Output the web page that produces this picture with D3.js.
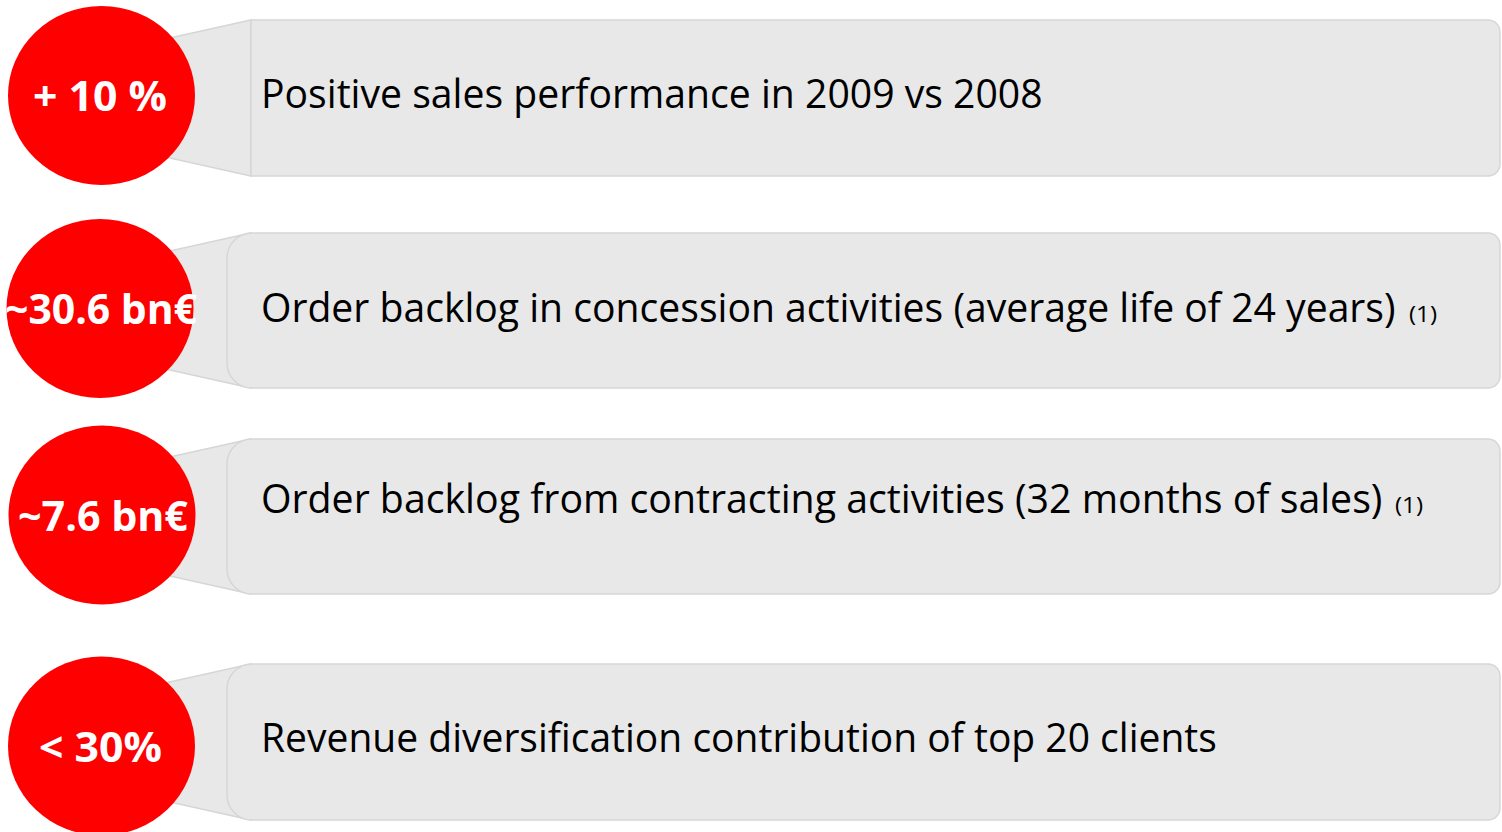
<!DOCTYPE html>
<html>
<head>
<meta charset="utf-8">
<script src="https://cdn.jsdelivr.net/npm/d3@7"></script>
<style>
  html, body { margin: 0; padding: 0; background: #ffffff; }
  svg { display: block; }
</style>
</head>
<body>
<svg id="chart" width="1502" height="832"></svg>
<script>
// ---- data ----
const categories = ["sales", "concession", "contracting", "clients"];
const figures = ["+ 10 %", "~30.6 bn€", "~7.6 bn€", "< 30%"];
const descriptions = [
  "Positive sales performance in 2009 vs 2008",
  "Order backlog in concession activities (average life of 24 years)",
  "Order backlog from contracting activities (32 months of sales)",
  "Revenue diversification contribution of top 20 clients"
];
const notes = ["", "(1)", "(1)", ""];

// ---- layout (not data) ----
const boxTop    = d3.scaleOrdinal().domain(categories).range([20, 233, 439, 664]);
const boxBottom = d3.scaleOrdinal().domain(categories).range([176, 388, 594, 820]);
const circleCx  = d3.scaleOrdinal().domain(categories).range([101.5, 100, 102, 101.5]);
const circleCy  = d3.scaleOrdinal().domain(categories).range([95.5, 308.5, 515, 746]);
const textBase  = d3.scaleOrdinal().domain(categories).range([108, 322, 513, 752]);
const leftRadius = d3.scaleOrdinal().domain(categories).range([0, 25, 25, 25]);
const boxLeft    = d3.scaleOrdinal().domain(categories).range([251, 227, 227, 227]);
const descRight  = d3.scaleOrdinal().domain(categories).range([1043, 1396, 1383, 1217]);
const noteX      = d3.scaleOrdinal().domain(categories).range([0, 1409, 1395, 0]);
const figWidth   = d3.scaleOrdinal().domain(categories).range([134, 192, 170, 123]);
const figCenter  = d3.scaleOrdinal().domain(categories).range([100, 101, 103, 100.5]);
const boxRight = 1500, rightR = 12, textX = 261, joinX = 251;

const rows = categories.map((c, i) => ({
  key: c, figure: figures[i], desc: descriptions[i], note: notes[i]
}));

const svg = d3.select("#chart");
const fill = "#e8e8e8", stroke = "#d6d6d6", red = "#ff0000";
const FONT = "'Open Sans', 'Noto Sans', sans-serif";

const g = svg.selectAll("g.row").data(rows).join("g").attr("class", "row");

// connector trapezoid
g.append("path")
  .attr("d", d => {
    const t = boxTop(d.key), b = boxBottom(d.key);
    const x0 = 110;
    const inset = (joinX - x0) * 0.222;
    return `M${x0},${t + inset} L${joinX},${t} L${joinX},${b} L${x0},${b - inset} Z`;
  })
  .attr("fill", fill)
  .attr("stroke", stroke)
  .attr("stroke-width", 1.5);

// box
g.append("path")
  .attr("d", d => {
    const t = boxTop(d.key), b = boxBottom(d.key), l = boxLeft(d.key), lr = leftRadius(d.key);
    const p = d3.path();
    p.moveTo(l + lr, t);
    p.lineTo(boxRight - rightR, t);
    p.arcTo(boxRight, t, boxRight, t + rightR, rightR);
    p.lineTo(boxRight, b - rightR);
    p.arcTo(boxRight, b, boxRight - rightR, b, rightR);
    p.lineTo(l + lr, b);
    if (lr > 0) p.arcTo(l, b, l, b - lr, lr); else p.lineTo(l, b);
    p.lineTo(l, t + lr);
    if (lr > 0) p.arcTo(l, t, l + lr, t, lr);
    p.closePath();
    return p.toString();
  })
  .attr("fill", fill)
  .attr("stroke", stroke)
  .attr("stroke-width", 1.5);

// circle
g.append("ellipse")
  .attr("cx", d => circleCx(d.key))
  .attr("cy", d => circleCy(d.key))
  .attr("rx", 93.5)
  .attr("ry", 89.5)
  .attr("fill", red);

// helper: place text at (x, y) and squeeze horizontally to a target width
function fitText(sel, anchorX, y, target, anchor) {
  sel.each(function(d) {
    const node = this;
    const w = node.getComputedTextLength();
    const tw = target(d);
    const sx = w > 0 ? tw / w : 1;
    const x = anchorX(d);
    const left = anchor === "middle" ? x - tw / 2 : x;
    d3.select(node).attr("x", 0).attr("y", 0)
      .attr("text-anchor", "start")
      .attr("transform", `translate(${left},${y(d)}) scale(${sx},1)`);
  });
}

// figure label
g.append("text")
  .attr("font-family", FONT)
  .attr("font-weight", 700)
  .attr("font-size", 41)
  .attr("fill", "#ffffff")
  .text(d => d.figure)
  .call(fitText, d => figCenter(d.key), d => circleCy(d.key) + 15.5, d => figWidth(d.key), "middle");

// description
g.append("text")
  .attr("font-family", FONT)
  .attr("font-weight", 400)
  .attr("font-size", 41)
  .attr("fill", "#000000")
  .text(d => d.desc)
  .call(fitText, d => textX, d => textBase(d.key), d => descRight(d.key) - textX, "start");

// footnote marker
g.filter(d => d.note !== "").append("text")
  .attr("font-family", FONT)
  .attr("font-size", 22)
  .attr("fill", "#000000")
  .text(d => d.note)
  .call(fitText, d => noteX(d.key), d => textBase(d.key), d => 28, "start");
</script>
</body>
</html>
